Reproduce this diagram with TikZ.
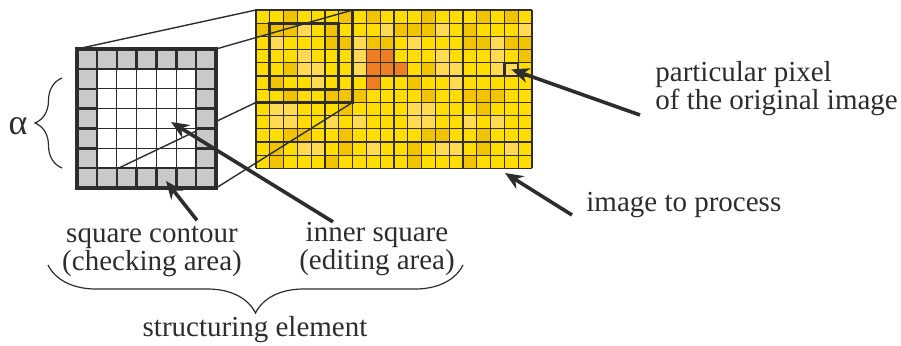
\documentclass[tikz,border=0pt]{standalone}
\usepackage{fontspec}
\setmainfont{Liberation Serif}
\usetikzlibrary{arrows.meta,decorations.pathreplacing}

\definecolor{pxY}{RGB}{255,221,0}
\definecolor{pxD}{RGB}{242,196,0}
\definecolor{pxL}{RGB}{255,218,82}
\definecolor{pxO}{RGB}{239,125,34}
\definecolor{cellgray}{RGB}{200,201,200}
\definecolor{ink}{RGB}{45,45,45}
\definecolor{gridink}{RGB}{50,46,34}

\begin{document}
\begin{tikzpicture}[x=0.5pt, y=-0.5pt,
  lbl/.style={font=\fontsize{14.5}{14}\selectfont, text=ink, inner sep=0pt, align=center},
  arr/.style={draw=ink, line width=1.8pt, -{Stealth[length=9pt, width=7.5pt]}},
  proj/.style={draw=ink, line width=0.7pt},
  gridline/.style={draw=gridink, line width=0.6pt},
  frame/.style={draw=ink, line width=1.4pt},
  sethin/.style={draw=ink, line width=0.75pt},
  sethick/.style={draw=ink, line width=1.2pt},
  seouter/.style={draw=ink, line width=1.6pt},
  bracedeco/.style={draw=ink, line width=0.6pt, decorate, decoration={brace, amplitude=#1}}]
  \useasboundingbox (0,0) rectangle (901,345);
  \def\cw{13.8} \def\ch{13.2} \def\gs{19.86}

  % 処理する画像（20x12 ピクセル, 10 列ごとに同じ模様）
  \foreach \rowvals [count=\ry from 0] in {
      {0,0,1,0,0,0,1,0,1,0},{1,1,1,2,0,1,0,0,0,2},{0,2,0,0,0,1,1,2,1,1},
      {0,0,0,2,0,0,0,2,0,1},{0,0,1,2,2,0,0,2,2,0},{0,1,0,0,2,0,0,0,0,0},
      {0,0,1,0,0,1,1,1,0,0},{0,2,2,0,0,0,1,0,0,0},{0,2,2,0,0,2,0,2,0,0},
      {0,0,1,1,0,0,1,0,0,0},{0,1,0,2,2,0,1,0,2,0},{0,1,0,0,0,1,0,0,0,0}}{
    \foreach \val [count=\cx from 0] in \rowvals {
      \ifcase\val\relax \def\pc{pxY}\or \def\pc{pxD}\or \def\pc{pxL}\fi
      \foreach \k in {0,10}
        \fill[fill=\pc] ({256+(\cx+\k)*\cw},{10+\ry*\ch}) rectangle ++(\cw,\ch);
    }
  }
  % オレンジの部分
  \foreach \cx/\ry in {8/3,9/3,8/4,9/4,10/4,8/5}
    \fill[pxO] ({256+\cx*\cw},{10+\ry*\ch}) rectangle ++(\cw,\ch);
  \foreach \cx in {0,...,20}
    \draw[gridline] ({256+\cx*\cw},10) -- ++(0,{12*\ch});
  \foreach \ry in {0,...,12}
    \draw[gridline] (256,{10+\ry*\ch}) -- ++({20*\cw},0);

  % 枠（7x7 と 5x5）
  \coordinate (fr-tl) at (256,10);
  \coordinate (fr-tr) at ({256+7*\cw},10);
  \coordinate (fr-br) at ({256+7*\cw},{10+7*\ch});
  \coordinate (fr-bl) at (256,{10+7*\ch});
  \coordinate (in-tl) at ({256+\cw},{10+\ch});
  \coordinate (in-br) at ({256+6*\cw},{10+6*\ch});
  \draw[frame] (fr-tl) rectangle (fr-br);
  \draw[frame] (in-tl) rectangle (in-br);

  % 注目するピクセル
  \node[frame, line width=1.1pt, minimum width=6.9pt, minimum height=6.6pt, inner sep=0pt]
    (pixel) at ({256+18.5*\cw},{10+4.5*\ch}) {};

  % 構造要素の四隅と投影線
  \coordinate (se-tl) at (77,49);
  \coordinate (se-tr) at ({77+7*\gs},49);
  \coordinate (se-br) at ({77+7*\gs},{49+7*\gs});
  \coordinate (se-bl) at (77,{49+7*\gs});
  \draw[proj] (se-tl) -- (fr-tl);
  \draw[proj] (se-tr) -- (fr-tr);
  \draw[proj] (se-br) -- (fr-br);
  \draw[proj] (se-bl) -- (fr-bl);

  % 構造要素（灰色の輪郭と白い内側）
  \fill[cellgray, even odd rule] (se-tl) rectangle (se-br)
    ({77+\gs},{49+\gs}) rectangle ++({5*\gs},{5*\gs});
  \foreach \i in {1,...,6} {
    \draw[sethin] ({77+\i*\gs},49) -- ++(0,{7*\gs});
    \draw[sethin] (77,{49+\i*\gs}) -- ++({7*\gs},0);
    \draw[sethick] ({77+\i*\gs},49) -- ++(0,\gs);
    \draw[sethick] ({77+\i*\gs},{49+6*\gs}) -- ++(0,\gs);
    \draw[sethick] (77,{49+\i*\gs}) -- ++(\gs,0);
    \draw[sethick] ({77+6*\gs},{49+\i*\gs}) -- ++(\gs,0);
  }
  \draw[sethick] ({77+\gs},{49+\gs}) rectangle ++({5*\gs},{5*\gs});
  \draw[seouter] (se-tl) rectangle (se-br);

  % alpha と括弧
  \node[lbl, font=\fontsize{18}{18}\selectfont] (alpha) at (18,126) {α};
  \draw[bracedeco=13.5pt] (62,168) -- (62,78);

  % ラベル
  \node[lbl] (contour) at (152,251) {square contour\\(checking area)};
  \node[lbl] (inner) at (377,249) {inner square\\(editing area)};
  \node[lbl] (struct) at (255,329.5) {structuring element};
  \node[lbl, align=left, anchor=west] (particular) at (655,89) {particular pixel\\of the original image};
  \node[lbl, anchor=west] (process) at (586,205) {image to process};
  \draw[bracedeco=24pt] (463,265) -- (48,265);

  % 矢印
  \coordinate (contour-pt) at (166,181);
  \coordinate (inner-pt) at (171,122);
  \coordinate (image-pt) at (505,173);
  \draw[arr] ([xshift=22.5pt, yshift=2.5pt]contour.north) -- (contour-pt);
  \draw[arr] ([xshift=-22pt]inner.north) -- (inner-pt);
  \draw[arr] ([xshift=-7.5pt, yshift=-13pt]particular.west) -- (pixel.center);
  \draw[arr] ([xshift=-7pt, yshift=-5pt]process.west) -- (image-pt);
\end{tikzpicture}
\end{document}
